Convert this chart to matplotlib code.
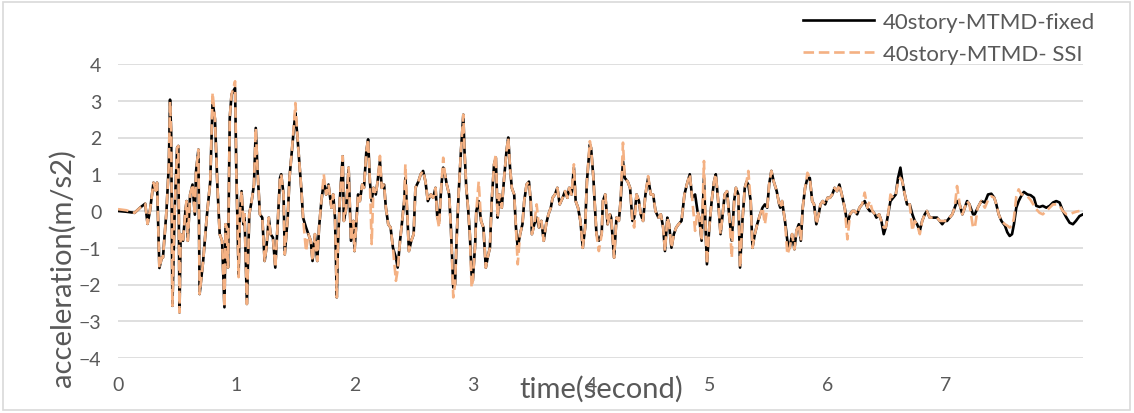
import matplotlib
matplotlib.use("Agg")
import matplotlib.pyplot as plt
from matplotlib.patches import Rectangle

plt.rcParams['font.family'] = ['Lato', 'DejaVu Sans']

# (time [s], acceleration [m/s2])
fixed_pts = [
    (0.00, 0.00), (0.07, -0.02), (0.14, -0.05), (0.19, 0.10), (0.23, 0.20), (0.25, -0.35), (0.27, 0.00),
    (0.30, 0.77), (0.32, 0.55), (0.33, 0.77), (0.35, -1.55), (0.37, -1.27), (0.38, -1.27), (0.41, 0.00),
    (0.43, 1.27), (0.44, 3.03), (0.45, 2.10), (0.46, -2.58), (0.48, 0.10), (0.50, 1.72), (0.51, 1.77),
    (0.52, -2.76), (0.53, -0.63), (0.55, -0.81), (0.57, 0.00), (0.58, 0.27), (0.59, -0.81), (0.61, 0.45),
    (0.63, 0.72), (0.65, -0.10), (0.66, 1.08), (0.68, 1.67), (0.69, -2.26), (0.72, -1.36), (0.75, -0.18),
    (0.78, 0.80), (0.80, 2.98), (0.82, 2.50), (0.84, 0.72), (0.86, -0.63), (0.88, -0.81), (0.90, -2.62),
    (0.91, -0.36), (0.92, -0.45), (0.93, -1.54), (0.945, 2.53), (0.96, 3.17), (0.99, 3.35), (1.00, 1.18),
    (1.02, -1.72), (1.03, -0.09), (1.045, 0.54), (1.06, -0.36), (1.07, -0.09), (1.09, -2.53), (1.11, -0.09),
    (1.13, 0.27), (1.15, 0.72), (1.165, 2.26), (1.18, 1.09), (1.20, -0.09), (1.22, -0.18), (1.24, -1.36),
    (1.255, -1.00), (1.275, -0.18), (1.29, -0.63), (1.31, -0.72), (1.33, -1.54), (1.35, -0.36), (1.37, 0.90),
    (1.38, 1.00), (1.40, 0.45), (1.41, -1.18), (1.435, -0.18), (1.45, 0.90), (1.47, 1.63), (1.49, 2.35),
    (1.50, 2.67), (1.52, 1.90), (1.55, 0.60), (1.565, -0.18), (1.59, -0.45), (1.61, -0.63), (1.63, -0.81),
    (1.645, -1.36), (1.665, -0.63), (1.685, -1.36), (1.70, -0.45), (1.72, 0.27), (1.74, 0.80), (1.76, 0.45),
    (1.78, 0.72), (1.805, 0.09), (1.82, 0.45), (1.835, -0.18), (1.85, -2.35), (1.86, -0.90), (1.875, 0.27),
    (1.90, 1.49), (1.91, -0.27), (1.93, 0.09), (1.95, 1.18), (1.97, -0.81), (1.99, -0.27), (2.00, -1.09),
    (2.02, -0.09), (2.03, 0.45), (2.045, 0.27), (2.065, 0.72), (2.08, 0.63), (2.10, 1.63), (2.115, 1.95),
    (2.13, 0.80), (2.145, 0.27), (2.16, 0.63), (2.18, 0.45), (2.195, 0.80), (2.215, 1.36), (2.23, 0.63),
    (2.25, 0.72), (2.265, 0.09), (2.285, -0.36), (2.305, -0.45), (2.325, -1.00), (2.35, -1.27), (2.365, -1.54),
    (2.385, -0.81), (2.40, -0.36), (2.42, 0.27), (2.43, 0.90), (2.45, -0.36), (2.46, -1.09), (2.48, -0.81),
    (2.50, -0.63), (2.515, 0.63), (2.54, 0.80), (2.56, 1.00), (2.58, 1.09), (2.60, 0.80), (2.62, 0.27),
    (2.645, 0.45), (2.665, 0.36), (2.685, 0.63), (2.70, -0.18), (2.715, -0.27), (2.735, 0.72), (2.75, 1.18),
    (2.765, 1.00), (2.78, 0.72), (2.80, 0.45), (2.815, -0.45), (2.835, -2.08), (2.85, -1.99), (2.865, -0.63),
    (2.88, 0.45), (2.90, 1.63), (2.92, 2.62), (2.93, 1.63), (2.945, 0.63), (2.96, 0.09), (2.975, -0.63),
    (2.99, -1.72), (3.00, -1.90), (3.02, -0.90), (3.03, 0.00), (3.05, 0.27), (3.07, -0.27), (3.09, -0.45),
    (3.11, -1.54), (3.13, -1.20), (3.145, -1.00), (3.16, 0.27), (3.18, 1.27), (3.195, 1.45), (3.21, -0.18),
    (3.225, 0.45), (3.245, 0.09), (3.265, 0.90), (3.285, 1.63), (3.30, 2.00), (3.315, 1.18), (3.33, 0.63),
    (3.35, 0.45), (3.365, -0.45), (3.38, -1.00), (3.40, -0.63), (3.42, -0.36), (3.435, 0.27), (3.455, 0.72),
    (3.475, 0.80), (3.49, 0.27), (3.50, -0.63), (3.52, -0.36), (3.54, -0.18), (3.56, -0.45), (3.58, -0.27),
    (3.60, -0.81), (3.62, -0.36), (3.64, -0.09), (3.66, 0.09), (3.675, 0.36), (3.695, 0.45), (3.715, 0.63),
    (3.735, 0.18), (3.76, 0.36), (3.78, 0.54), (3.80, 0.36), (3.815, 0.63), (3.835, 0.45), (3.855, 1.18),
    (3.87, 0.27), (3.89, 0.09), (3.91, -0.27), (3.93, -1.00), (3.95, -0.45), (3.965, 0.80), (3.99, 1.81),
    (4.00, 1.72), (4.02, 0.90), (4.03, 0.27), (4.046, -0.63), (4.066, -0.81), (4.09, -0.63), (4.10, 0.27),
    (4.12, 0.45), (4.14, -0.36), (4.16, -0.09), (4.17, -0.18), (4.195, -1.27), (4.215, -0.18), (4.235, -0.27),
    (4.25, 0.27), (4.27, 1.36), (4.285, 0.90), (4.31, 0.80), (4.33, 0.63), (4.35, -0.27), (4.365, -0.18),
    (4.385, 0.45), (4.405, 0.27), (4.42, -0.09), (4.44, -0.27), (4.46, 0.45), (4.483, 0.90), (4.505, 0.45),
    (4.525, 0.45), (4.545, 0.00), (4.57, -0.18), (4.59, -0.09), (4.61, -0.45), (4.625, -1.09), (4.645, -0.18),
    (4.66, -0.36), (4.68, -1.00), (4.70, -0.63), (4.72, -0.45), (4.74, -0.36), (4.765, -0.27), (4.79, 0.45),
    (4.81, 0.72), (4.835, 1.00), (4.855, 0.36), (4.88, 0.45), (4.90, 0.00), (4.915, -0.18), (4.935, -0.81),
    (4.955, 0.90), (4.97, -0.63), (4.98, -1.45), (5.00, -0.45), (5.02, 0.27), (5.04, 0.80), (5.055, 1.00),
    (5.075, 0.27), (5.095, -0.63), (5.11, -0.18), (5.13, 0.45), (5.15, 0.54), (5.17, -0.18), (5.19, -0.81),
    (5.21, 0.27), (5.225, 0.63), (5.245, 0.45), (5.26, -1.54), (5.28, -0.27), (5.30, 0.63), (5.315, 0.80),
    (5.33, 0.72), (5.35, 0.27), (5.365, -1.00), (5.385, -0.63), (5.405, -0.36), (5.43, -0.09), (5.45, 0.09),
    (5.47, 0.18), (5.49, 0.09), (5.506, 0.72), (5.525, 1.09), (5.545, 0.80), (5.57, 0.54), (5.59, 0.20),
    (5.60, 0.09), (5.615, 0.27), (5.64, -0.27), (5.66, -0.81), (5.68, -1.00), (5.70, -0.63), (5.72, -1.04),
    (5.737, -0.54), (5.757, -0.36), (5.774, -0.81), (5.79, 0.09), (5.81, 0.63), (5.83, 0.90), (5.85, 0.90),
    (5.87, 0.27), (5.886, 0.18), (5.905, -0.36), (5.925, -0.09), (5.94, 0.18), (5.96, 0.27), (5.98, 0.18),
    (6.00, 0.36), (6.02, 0.36), (6.04, 0.45), (6.06, 0.63), (6.08, 0.54), (6.10, 0.72), (6.12, 0.45),
    (6.145, 0.09), (6.168, -0.36), (6.19, -0.09), (6.21, 0.00), (6.23, 0.00), (6.25, -0.09), (6.27, 0.09),
    (6.292, 0.18), (6.314, 0.27), (6.337, 0.09), (6.357, 0.00), (6.38, 0.00), (6.40, -0.09), (6.413, -0.18),
    (6.436, -0.09), (6.455, -0.27), (6.475, -0.63), (6.492, -0.45), (6.512, -0.09), (6.532, 0.27), (6.554, 0.36),
    (6.577, 0.45), (6.596, 0.90), (6.616, 1.18), (6.633, 0.80), (6.653, 0.45), (6.672, 0.18), (6.695, 0.18),
    (6.717, -0.09), (6.737, -0.27), (6.757, -0.36), (6.78, -0.54), (6.80, -0.27), (6.822, -0.09), (6.84, 0.00),
    (6.864, -0.18), (6.886, -0.18), (6.906, -0.18), (6.926, -0.18), (6.948, -0.27), (6.97, -0.36), (6.99, -0.27),
    (7.01, -0.27), (7.033, -0.18), (7.055, -0.09), (7.075, 0.09), (7.095, 0.27), (7.117, 0.18), (7.14, -0.09),
    (7.16, 0.09), (7.18, 0.27), (7.20, 0.18), (7.23, -0.09), (7.245, -0.09), (7.27, 0.09), (7.30, 0.27),
    (7.33, 0.23), (7.357, 0.45), (7.385, 0.47), (7.41, 0.36), (7.427, 0.18), (7.447, -0.09), (7.47, -0.27),
    (7.50, -0.40), (7.52, -0.58), (7.54, -0.68), (7.56, -0.63), (7.576, -0.36), (7.596, 0.09), (7.616, 0.27),
    (7.638, 0.41), (7.66, 0.52), (7.69, 0.45), (7.717, 0.43), (7.745, 0.36), (7.765, 0.14), (7.793, 0.11),
    (7.82, 0.14), (7.85, 0.09), (7.878, 0.14), (7.906, 0.23), (7.934, 0.27), (7.962, 0.23), (7.99, 0.00),
    (8.02, -0.18), (8.047, -0.32), (8.075, -0.36), (8.10, -0.27), (8.13, -0.14), (8.16, -0.09),
]

ssi_pts = [
    (0.00, 0.05), (0.07, 0.02), (0.14, -0.05), (0.19, 0.10), (0.23, 0.20), (0.25, -0.35), (0.27, 0.00),
    (0.30, 0.77), (0.32, 0.55), (0.33, 0.77), (0.35, -1.55), (0.37, -1.27), (0.38, -1.27), (0.41, 0.00),
    (0.43, 1.27), (0.44, 2.98), (0.45, 2.10), (0.46, -2.58), (0.48, 0.10), (0.50, 1.72), (0.51, 1.77),
    (0.52, -2.76), (0.53, -0.63), (0.55, -0.81), (0.57, 0.00), (0.58, 0.27), (0.59, -0.81), (0.61, 0.45),
    (0.63, 0.72), (0.65, -0.10), (0.66, 1.08), (0.68, 1.67), (0.69, -2.26), (0.72, -1.36), (0.75, -0.18),
    (0.78, 0.80), (0.80, 3.22), (0.82, 2.50), (0.84, 0.72), (0.86, -0.63), (0.88, -0.81), (0.90, -2.62),
    (0.91, -0.36), (0.92, -0.45), (0.93, -1.54), (0.945, 2.53), (0.96, 3.17), (0.99, 3.53), (1.00, 1.18),
    (1.02, -1.80), (1.03, -0.09), (1.045, 0.54), (1.06, -0.36), (1.07, -0.09), (1.09, -2.53), (1.11, -0.09),
    (1.13, 0.27), (1.15, 0.72), (1.165, 2.26), (1.18, 1.09), (1.20, -0.09), (1.22, -0.18), (1.24, -1.36),
    (1.255, -1.00), (1.275, -0.18), (1.29, -0.63), (1.31, -0.72), (1.33, -1.54), (1.35, -0.36), (1.37, 0.90),
    (1.38, 1.00), (1.40, 0.45), (1.41, -1.18), (1.435, -0.18), (1.45, 0.90), (1.47, 1.63), (1.49, 2.45),
    (1.50, 2.94), (1.52, 1.90), (1.55, 0.60), (1.565, -0.18), (1.59, -1.10), (1.61, -0.63), (1.63, -0.81),
    (1.645, -1.36), (1.665, -0.63), (1.685, -1.36), (1.70, -0.45), (1.72, 0.27), (1.74, 1.00), (1.76, 0.45),
    (1.78, 0.72), (1.805, 0.09), (1.82, 0.45), (1.835, -0.18), (1.85, -2.35), (1.86, -0.90), (1.875, 0.27),
    (1.90, 1.49), (1.91, -0.27), (1.93, 0.09), (1.95, 1.18), (1.97, -0.81), (1.99, -0.27), (2.00, -1.09),
    (2.02, -0.09), (2.03, 0.45), (2.045, 0.27), (2.065, 0.72), (2.08, 0.63), (2.10, 1.63), (2.115, 1.95),
    (2.13, 0.80), (2.145, -0.90), (2.16, 0.63), (2.18, 0.45), (2.195, 0.80), (2.215, 1.50), (2.23, 0.63),
    (2.25, 0.72), (2.265, 0.09), (2.285, -0.36), (2.305, -0.45), (2.325, -1.00), (2.35, -1.90), (2.365, -1.60),
    (2.385, -0.81), (2.40, -0.36), (2.42, 0.27), (2.43, 1.27), (2.45, -0.36), (2.46, -1.09), (2.48, -0.81),
    (2.50, -0.63), (2.515, 0.63), (2.54, 0.80), (2.56, 1.00), (2.58, 1.09), (2.60, 0.80), (2.62, 0.27),
    (2.645, 0.45), (2.665, 0.36), (2.685, 0.63), (2.70, -0.18), (2.715, -0.45), (2.735, 0.72), (2.75, 1.45),
    (2.765, 1.00), (2.78, 0.72), (2.80, 0.45), (2.815, -0.45), (2.835, -2.35), (2.85, -1.99), (2.865, -0.63),
    (2.88, 0.45), (2.90, 1.63), (2.92, 2.62), (2.93, 1.63), (2.945, 0.63), (2.96, 0.09), (2.975, -0.63),
    (2.99, -2.08), (3.00, -1.90), (3.02, -0.90), (3.03, 0.00), (3.05, 0.80), (3.07, -0.27), (3.09, -0.45),
    (3.11, -1.54), (3.13, -1.20), (3.145, -1.00), (3.16, 0.27), (3.18, 1.27), (3.195, 1.54), (3.21, -0.18),
    (3.225, 0.45), (3.245, 0.09), (3.265, 0.90), (3.285, 1.63), (3.30, 2.00), (3.315, 1.18), (3.33, 0.63),
    (3.35, 0.45), (3.365, -0.45), (3.38, -1.45), (3.40, -0.63), (3.42, -0.36), (3.435, 0.27), (3.455, 0.72),
    (3.475, 0.80), (3.49, 0.27), (3.50, -0.63), (3.52, -0.36), (3.54, 0.18), (3.56, -0.45), (3.58, -0.27),
    (3.60, -0.81), (3.62, -0.36), (3.64, -0.09), (3.66, 0.09), (3.675, 0.36), (3.695, 0.45), (3.715, 0.63),
    (3.735, 0.18), (3.76, 0.36), (3.78, 0.54), (3.80, 0.36), (3.815, 0.63), (3.835, 0.45), (3.855, 1.27),
    (3.87, 0.27), (3.89, 0.09), (3.91, -0.27), (3.93, -1.00), (3.95, -0.45), (3.965, 0.80), (3.99, 1.90),
    (4.00, 1.72), (4.02, 0.90), (4.03, 0.27), (4.046, -0.63), (4.066, -1.09), (4.09, -0.63), (4.10, 0.27),
    (4.12, 0.45), (4.14, -0.36), (4.16, -0.09), (4.17, -0.18), (4.195, -1.27), (4.215, -0.18), (4.235, -0.27),
    (4.25, 0.27), (4.27, 1.86), (4.285, 0.90), (4.31, 0.80), (4.33, 0.63), (4.35, -0.27), (4.365, -0.45),
    (4.385, 0.45), (4.405, 0.27), (4.42, -0.09), (4.44, -0.27), (4.46, 0.45), (4.483, 0.95), (4.505, 0.45),
    (4.525, 0.45), (4.545, 0.00), (4.57, -0.18), (4.59, -0.09), (4.61, -0.45), (4.625, -1.09), (4.645, -0.18),
    (4.66, -0.36), (4.68, -1.00), (4.70, -0.63), (4.72, -0.45), (4.74, -0.36), (4.765, -0.27), (4.79, 0.45),
    (4.81, 0.72), (4.835, 1.00), (4.855, 0.36), (4.88, -0.54), (4.90, 0.00), (4.915, -0.18), (4.935, -0.81),
    (4.955, 1.36), (4.97, -0.63), (4.98, -1.45), (5.00, -0.45), (5.02, 0.27), (5.04, 0.80), (5.055, 1.00),
    (5.075, 0.27), (5.095, -0.63), (5.11, -0.18), (5.13, 0.45), (5.15, 0.54), (5.17, -0.18), (5.19, -1.27),
    (5.21, 0.27), (5.225, 0.63), (5.245, 0.45), (5.26, -1.54), (5.28, -0.27), (5.30, 0.63), (5.315, 0.80),
    (5.33, 1.09), (5.35, 0.27), (5.365, -1.00), (5.385, -0.63), (5.405, -0.36), (5.43, -0.09), (5.45, 0.09),
    (5.47, -0.36), (5.49, 0.09), (5.506, 0.72), (5.525, 1.09), (5.545, 0.80), (5.57, 0.54), (5.59, 0.20),
    (5.60, 0.09), (5.615, 0.27), (5.64, -0.27), (5.66, -1.18), (5.68, -1.00), (5.70, -0.63), (5.72, -1.04),
    (5.737, -0.54), (5.757, -0.36), (5.774, -0.81), (5.79, 0.09), (5.81, 0.63), (5.83, 1.04), (5.85, 0.90),
    (5.87, 0.27), (5.886, 0.18), (5.905, -0.36), (5.925, -0.09), (5.94, 0.18), (5.96, 0.27), (5.98, 0.18),
    (6.00, 0.36), (6.02, 0.36), (6.04, 0.45), (6.06, 0.63), (6.08, 0.54), (6.10, 0.72), (6.12, 0.45),
    (6.145, 0.09), (6.168, -0.77), (6.19, -0.09), (6.21, 0.00), (6.23, 0.00), (6.25, -0.09), (6.27, 0.09),
    (6.292, 0.18), (6.314, 0.50), (6.337, 0.09), (6.357, 0.27), (6.38, 0.00), (6.40, -0.09), (6.413, -0.18),
    (6.436, -0.09), (6.455, -0.27), (6.475, -0.45), (6.492, -0.45), (6.512, -0.09), (6.532, 0.45), (6.554, 0.36),
    (6.577, 0.45), (6.596, 0.80), (6.616, 0.90), (6.633, 0.80), (6.653, 0.45), (6.672, 0.18), (6.695, 0.18),
    (6.717, -0.54), (6.737, -0.27), (6.757, -0.36), (6.78, -0.63), (6.80, -0.27), (6.822, -0.09), (6.84, 0.00),
    (6.864, -0.18), (6.886, -0.18), (6.906, -0.18), (6.926, -0.18), (6.948, -0.27), (6.97, -0.27), (6.99, -0.27),
    (7.01, -0.27), (7.033, -0.18), (7.055, -0.09), (7.075, 0.09), (7.095, 0.68), (7.117, 0.18), (7.14, -0.09),
    (7.16, 0.09), (7.18, 0.27), (7.20, 0.18), (7.23, -0.45), (7.245, -0.45), (7.27, 0.09), (7.30, 0.27),
    (7.33, 0.09), (7.357, 0.30), (7.385, 0.40), (7.41, 0.36), (7.427, 0.18), (7.447, -0.09), (7.47, -0.27),
    (7.50, -0.36), (7.52, -0.40), (7.54, -0.45), (7.56, -0.40), (7.576, -0.20), (7.596, 0.40), (7.616, 0.59),
    (7.638, 0.45), (7.66, 0.45), (7.69, 0.40), (7.717, 0.30), (7.745, 0.15), (7.765, 0.05), (7.793, -0.05),
    (7.82, -0.09), (7.85, 0.00), (7.878, 0.09), (7.906, 0.18), (7.934, 0.18), (7.962, 0.14), (7.99, 0.00),
    (8.02, -0.09), (8.047, -0.09), (8.075, -0.05), (8.10, -0.02), (8.13, 0.00),
]

yticks = [-4, -3, -2, -1, 0, 1, 2, 3, 4]
xticks = [0, 1, 2, 3, 4, 5, 6, 7]

t_fixed, a_fixed = zip(*fixed_pts)
t_ssi, a_ssi = zip(*ssi_pts)

fig = plt.figure(figsize=(11.34, 4.14), dpi=100)
ax = fig.add_axes([118 / 1134, 55 / 414, 965 / 1134, 294 / 414])

ax.plot(t_fixed, a_fixed, color='black', lw=1.9, label='40story-MTMD-fixed', zorder=3)
ax.plot(t_ssi, a_ssi, color='#F4B183', lw=1.9, dashes=(4, 1.8), label='40story-MTMD- SSI', zorder=4)

ax.set_xlim(0, 8.16)
ax.set_ylim(-4, 4)
ax.set_yticks(yticks)
ax.set_xticks(xticks)
ax.grid(axis='y', color='#d9d9d9', lw=1.2)
ax.set_axisbelow(True)
for s in ax.spines.values():
    s.set_visible(False)
ax.tick_params(length=0, labelsize=14, colors='#595959', pad=12)
ax.tick_params(axis='x', pad=13)

fig.text(62 / 1134, 1 - 268 / 414, 'acceleration(m/s2)', rotation=90, ha='center', va='center',
         fontsize=21, color='#595959')
fig.text(601 / 1134, 1 - 389 / 414, 'time(second)', ha='center', va='center', fontsize=21, color='#595959')

ax.legend(loc='upper right', bbox_to_anchor=(1104 / 1134, 1 - 4 / 414), bbox_transform=fig.transFigure,
          frameon=False, fontsize=16, labelcolor='#595959', handlelength=3.2, handletextpad=0.4,
          labelspacing=0.55, borderaxespad=0)

fig.patches.append(Rectangle((3 / 1134, 3 / 414), 1127 / 1134, 408 / 414, transform=fig.transFigure,
                             fill=False, edgecolor='#d9d9d9', lw=1.2))

fig.savefig('out.png', dpi=100)
